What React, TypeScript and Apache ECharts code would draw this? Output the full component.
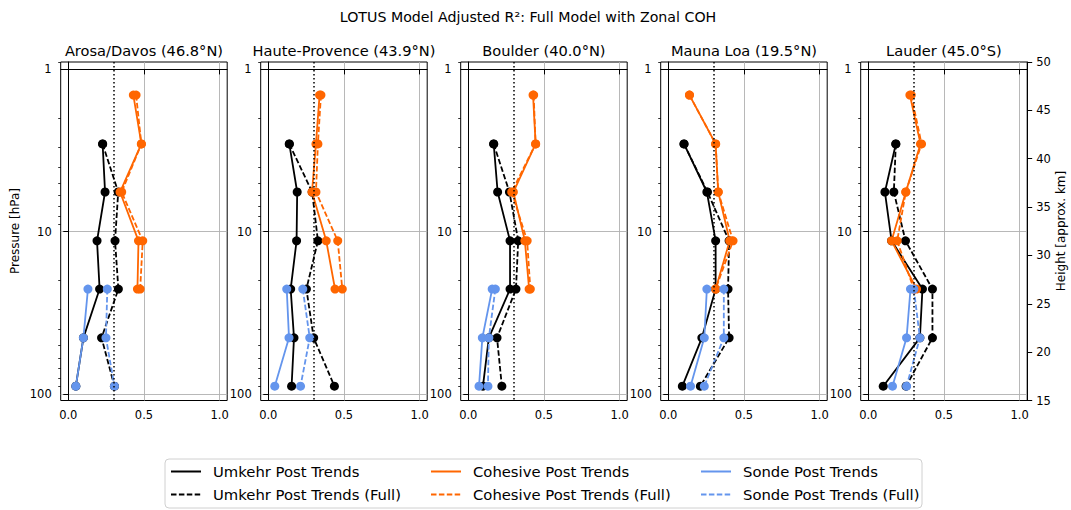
import React, { useEffect, useRef } from "react";
import * as echarts from "echarts";

// ---------------- data ----------------
const stations = [
  "Arosa/Davos (46.8°N)",
  "Haute-Provence (43.9°N)",
  "Boulder (40.0°N)",
  "Mauna Loa (19.5°N)",
  "Lauder (45.0°S)",
];
const umkehrPressure = [2.88, 5.7, 11.4, 22.6, 45.2, 89.8];
const cohesivePressure = [1.44, 2.88, 5.7, 11.4, 22.6];
const sondePressure = [22.6, 45.2, 89.8];

const umkehrPost = [
  [0.227, 0.243, 0.19, 0.207, 0.1, 0.05],
  [0.139, 0.191, 0.187, 0.148, 0.17, 0.154],
  [0.168, 0.194, 0.276, 0.276, 0.136, 0.097],
  [0.104, 0.255, 0.313, 0.313, 0.222, 0.093],
  [0.182, 0.11, 0.154, 0.358, 0.341, 0.099],
];
const umkehrFull = [
  [0.227, 0.33, 0.309, 0.331, 0.22, 0.305],
  [0.139, 0.29, 0.328, 0.252, 0.3, 0.437],
  [0.168, 0.272, 0.33, 0.315, 0.19, 0.222],
  [0.104, 0.259, 0.402, 0.395, 0.402, 0.212],
  [0.182, 0.169, 0.246, 0.424, 0.424, 0.25],
];
const cohesivePost = [
  [0.43, 0.483, 0.342, 0.464, 0.457],
  [0.339, 0.315, 0.289, 0.383, 0.441],
  [0.428, 0.445, 0.298, 0.374, 0.402],
  [0.14, 0.313, 0.33, 0.406, 0.313],
  [0.275, 0.345, 0.248, 0.154, 0.319],
];
const cohesiveFull = [
  [0.448, 0.483, 0.353, 0.492, 0.475],
  [0.348, 0.328, 0.315, 0.459, 0.489],
  [0.432, 0.445, 0.287, 0.389, 0.41],
  [0.14, 0.313, 0.33, 0.428, 0.313],
  [0.284, 0.352, 0.248, 0.191, 0.301],
];
const sondePost = [
  [0.13, 0.1, 0.05],
  [0.122, 0.137, 0.043],
  [0.158, 0.093, 0.071],
  [0.255, 0.238, 0.147],
  [0.279, 0.253, 0.16],
];
const sondeFull = [
  [0.258, 0.249, 0.305],
  [0.228, 0.274, 0.213],
  [0.179, 0.136, 0.13],
  [0.367, 0.367, 0.238],
  [0.301, 0.341, 0.253],
];
const threshold = 0.3;
const xTicks = [0, 0.5, 1];
const pressureTicks = [1, 10, 100];
const pressureMinorTicks = [0.9, 2, 3, 4, 5, 6, 7, 8, 9, 20, 30, 40, 50, 60, 70, 80, 90];
const pressureRange = [0.9, 110];
const heightRange = [15, 50];

const names = {
  uP: "Umkehr Post Trends",
  uF: "Umkehr Post Trends (Full)",
  cP: "Cohesive Post Trends",
  cF: "Cohesive Post Trends (Full)",
  sP: "Sonde Post Trends",
  sF: "Sonde Post Trends (Full)",
};

const BLACK = "#000000";
const ORANGE = "#ff6600";
const BLUE = "#6495ed";
const FONT = "DejaVu Sans";

const GRID_LEFT0 = 60.7;
const GRID_STEP = 200;
const GRID_W = 166.5;
const GRID_TOP = 62;
const GRID_H = 338.5;

export default function App() {
  const ref = useRef<HTMLDivElement>(null);

  useEffect(() => {
    if (!ref.current) return;
    const chart = echarts.init(ref.current, undefined, { renderer: "svg" });
    const lg = Math.log10;
    const yMin = lg(pressureRange[0]);
    const yMax = lg(pressureRange[1]);

    const grids: any[] = [];
    const xAxes: any[] = [];
    const yAxes: any[] = [];
    const series: any[] = [];
    const graphics: any[] = [];

    const mk = (name: string, xs: number[], ps: number[], color: string, dashed: boolean, i: number) => ({
      type: "line",
      name,
      xAxisIndex: i,
      yAxisIndex: 2 * i,
      data: xs.map((x, k) => [x, lg(ps[k])]),
      symbol: "circle",
      symbolSize: 9,
      showSymbol: true,
      silent: true,
      clip: false,
      lineStyle: { color, width: 1.8, type: dashed ? [5.5, 2.4] : "solid" },
      itemStyle: { color },
      emphasis: { disabled: true },
    });

    stations.forEach((st, i) => {
      const left = GRID_LEFT0 + GRID_STEP * i;
      grids.push({
        left,
        top: GRID_TOP,
        width: GRID_W,
        height: GRID_H,
        show: true,
        borderColor: "#000",
        borderWidth: 1,
        backgroundColor: "transparent",
        containLabel: false,
      });
      xAxes.push({
        gridIndex: i,
        type: "value",
        min: -0.05,
        max: 1.05,
        axisLine: { show: true, lineStyle: { color: "#000", width: 1 } },
        axisTick: { show: true, length: 5, customValues: xTicks, lineStyle: { color: "#000" } },
        axisLabel: {
          customValues: xTicks,
          formatter: (v: number) => v.toFixed(1),
          fontSize: 11.5,
          color: "#000",
          fontFamily: FONT,
          margin: 8,
        },
        splitLine: { show: true, lineStyle: { color: "#b0b0b0", width: 0.9 } },
      });
      yAxes.push({
        gridIndex: i,
        type: "value",
        inverse: true,
        position: "left",
        min: yMin,
        max: yMax,
        axisLine: { show: true, lineStyle: { color: "#000", width: 1 } },
        axisTick: { show: true, length: 5, customValues: pressureTicks.map(lg), lineStyle: { color: "#000" } },
        axisLabel: {
          customValues: pressureTicks.map(lg),
          formatter: (v: number) => String(Math.round(Math.pow(10, v))),
          fontSize: 11.5,
          color: "#000",
          fontFamily: FONT,
          margin: 9,
        },
        splitLine: { show: true, lineStyle: { color: "#b0b0b0", width: 0.9 } },
      });
      yAxes.push({
        gridIndex: i,
        type: "value",
        inverse: true,
        position: "left",
        min: yMin,
        max: yMax,
        axisLine: { show: false },
        axisTick: { show: true, length: 2.5, customValues: pressureMinorTicks.map(lg), lineStyle: { color: "#000", width: 0.8 } },
        axisLabel: { show: false },
        splitLine: { show: false },
      });

      series.push({
        type: "line",
        xAxisIndex: i,
        yAxisIndex: 2 * i,
        data: [],
        silent: true,
        markLine: {
          silent: true,
          symbol: "none",
          label: { show: false },
          lineStyle: { color: "#000", width: 1.5, type: [1.5, 2.5] },
          data: [{ xAxis: threshold }],
          animation: false,
        },
      });
      series.push(mk(names.uP, umkehrPost[i], umkehrPressure, BLACK, false, i));
      series.push(mk(names.uF, umkehrFull[i], umkehrPressure, BLACK, true, i));
      series.push(mk(names.cP, cohesivePost[i], cohesivePressure, ORANGE, false, i));
      series.push(mk(names.cF, cohesiveFull[i], cohesivePressure, ORANGE, true, i));
      series.push(mk(names.sP, sondePost[i], sondePressure, BLUE, false, i));
      series.push(mk(names.sF, sondeFull[i], sondePressure, BLUE, true, i));

      graphics.push({
        type: "text",
        x: left + GRID_W / 2,
        y: 50,
        style: {
          text: st,
          fontSize: 14.6,
          fontFamily: FONT,
          fill: "#000",
          textAlign: "center",
          textVerticalAlign: "middle",
        },
      });
    });

    // right height axis on last panel
    yAxes.push({
      gridIndex: 4,
      type: "value",
      position: "right",
      min: heightRange[0],
      max: heightRange[1],
      interval: 5,
      axisLine: { show: true, lineStyle: { color: "#000", width: 1 } },
      axisTick: { show: true, length: 5, lineStyle: { color: "#000" } },
      axisLabel: { fontSize: 11.5, color: "#000", fontFamily: FONT, margin: 9 },
      splitLine: { show: false },
    });

    graphics.push({
      type: "text",
      x: 528,
      y: 17,
      style: {
        text: "LOTUS Model Adjusted R²: Full Model with Zonal COH",
        fontSize: 14.2,
        fontFamily: FONT,
        fill: "#000",
        textAlign: "center",
        textVerticalAlign: "middle",
      },
    });
    graphics.push({
      type: "text",
      x: 15,
      y: 231,
      rotation: Math.PI / 2,
      style: {
        text: "Pressure [hPa]",
        fontSize: 12,
        fontFamily: FONT,
        fill: "#000",
        textAlign: "center",
        textVerticalAlign: "middle",
      },
    });
    graphics.push({
      type: "text",
      x: 1061,
      y: 231,
      rotation: Math.PI / 2,
      style: {
        text: "Height [approx. km]",
        fontSize: 12,
        fontFamily: FONT,
        fill: "#000",
        textAlign: "center",
        textVerticalAlign: "middle",
      },
    });
    graphics.push({
      type: "rect",
      z: 0,
      shape: { x: 165, y: 459, width: 757, height: 49, r: 4 },
      style: { fill: "rgba(255,255,255,0.8)", stroke: "#d0d0d0", lineWidth: 1 },
    });

    const legendItem = (left: number, top: number, name: string) => ({
      orient: "horizontal",
      left,
      top,
      padding: 0,
      itemWidth: 30,
      itemHeight: 14,
      data: [name],
      selectedMode: false,
      itemStyle: { opacity: 0 },
      textStyle: { fontSize: 14.8, color: "#000", fontFamily: FONT, padding: [0, 0, 0, 7] },
      z: 5,
    });

    chart.setOption({
      animation: false,
      textStyle: { fontFamily: FONT },
      grid: grids,
      xAxis: xAxes,
      yAxis: yAxes,
      series,
      graphic: graphics,
      legend: [
        legendItem(170, 464, names.uP),
        legendItem(170, 487, names.uF),
        legendItem(430, 464, names.cP),
        legendItem(430, 487, names.cF),
        legendItem(700, 464, names.sP),
        legendItem(700, 487, names.sF),
      ],
    });

    return () => chart.dispose();
  }, []);

  return (
    <div
      ref={ref}
      style={{ position: "absolute", left: 0, top: 0, width: 1071, height: 510, background: "#fff" }}
    />
  );
}
